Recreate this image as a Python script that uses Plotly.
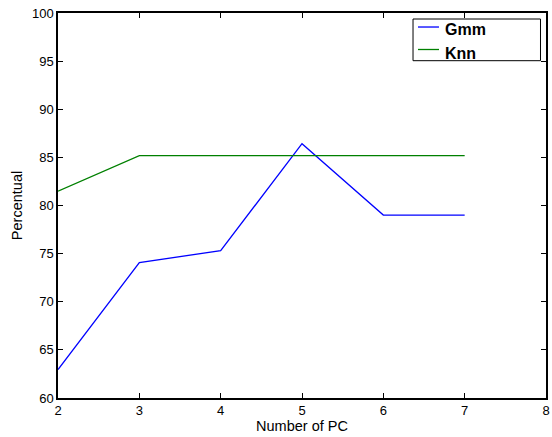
import plotly.graph_objects as go

num_pc = [2, 3, 4, 5, 6, 7]
gmm = [62.96, 74.07, 75.31, 86.42, 79.01, 79.01]
knn = [81.48, 85.19, 85.19, 85.19, 85.19, 85.19]
series_names = ["Gmm", "Knn"]
series_colors = ["#0000ff", "#008000"]
x_ticks = [2, 3, 4, 5, 6, 7, 8]
y_ticks = [60, 65, 70, 75, 80, 85, 90, 95, 100]

font = "Liberation Sans, Arial, sans-serif"

fig = go.Figure()
for name, vals, col in zip(series_names, [gmm, knn], series_colors):
    fig.add_trace(go.Scatter(x=num_pc, y=vals, mode="lines", name=name,
                             line=dict(color=col, width=1.3), showlegend=False))

axis_common = dict(showline=True, linecolor="black", linewidth=1.5, mirror="ticks",
                   ticks="inside", ticklen=5, tickcolor="black", tickwidth=1,
                   showgrid=False, zeroline=False, ticklabeloverflow="allow",
                   tickfont=dict(family=font, size=13, color="black"))

# MATLAB-style legend box (paper coordinates)
box = dict(x0=0.7275, x1=0.9887, y0=0.8761, y1=0.9844)
line_y = [0.9636, 0.9052]
text_y = [0.9584, 0.8961]
shapes = [dict(type="rect", xref="paper", yref="paper", **box,
               line=dict(color="black", width=1), fillcolor="white", layer="above")]
annotations = []
for name, col, ly, ty in zip(series_names, series_colors, line_y, text_y):
    shapes.append(dict(type="line", xref="paper", yref="paper", x0=0.7377, x1=0.7807,
                       y0=ly, y1=ly, line=dict(color=col, width=1.3), layer="above"))
    annotations.append(dict(xref="paper", yref="paper", x=0.789, y=ty, xanchor="left",
                            yanchor="middle", showarrow=False, text="<b>%s</b>" % name,
                            font=dict(family=font, size=16, color="black")))

fig.update_layout(
    width=552, height=437,
    margin=dict(l=58, r=6, t=13, b=39, autoexpand=False),
    plot_bgcolor="white", paper_bgcolor="white",
    xaxis=dict(range=[2, 8], tickvals=x_ticks,
               title=dict(text="Number of PC", font=dict(family=font, size=14.5, color="black"), standoff=2),
               **axis_common),
    yaxis=dict(range=[60, 100], tickvals=y_ticks,
               title=dict(text="Percentual", font=dict(family=font, size=14.5, color="black"), standoff=6),
               **axis_common),
    shapes=shapes,
    annotations=annotations,
    showlegend=False,
)

fig.write_html("out.html", config={"displayModeBar": False},
               post_script="document.body.style.margin='0';document.body.style.overflow='hidden';")
